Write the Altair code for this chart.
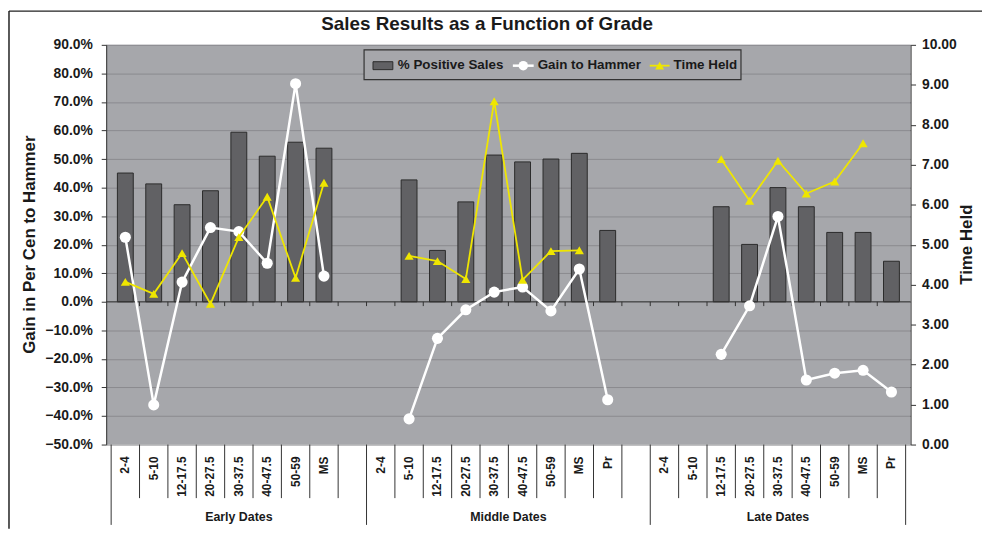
import altair as alt
import pandas as pd

# ---------------- data ----------------
groups = ["Early Dates", "Middle Dates", "Late Dates"]
group_grades = [
    ["2-4", "5-10", "12-17.5", "20-27.5", "30-37.5", "40-47.5", "50-59", "MS", ""],
    ["2-4", "5-10", "12-17.5", "20-27.5", "30-37.5", "40-47.5", "50-59", "MS", "Pr", ""],
    ["2-4", "5-10", "12-17.5", "20-27.5", "30-37.5", "40-47.5", "50-59", "MS", "Pr"],
]
# % Positive Sales (percent, left axis)
positive_sales = [45.1, 41.3, 34.0, 38.9, 59.4, 51.0, 55.9, 53.8, None,
                  None, 42.7, 18.0, 35.0, 51.4, 49.0, 50.0, 52.0, 25.0, None,
                  None, None, 33.3, 20.1, 40.0, 33.3, 24.3, 24.3, 14.2]
# Gain to Hammer (percent, left axis)
gain_to_hammer = [22.6, -36.1, 6.9, 26.0, 24.6, 13.5, 76.4, 9.0, None,
                  None, -41.0, -12.8, -2.8, 3.4, 5.2, -3.2, 11.5, -34.3, None,
                  None, None, -18.4, -1.4, 29.9, -27.4, -25.0, -24.0, -31.6]
# Time Held (right axis)
time_held = [4.07, 3.77, 4.79, 3.52, 5.19, 6.20, 4.17, 6.55, None,
             None, 4.72, 4.59, 4.14, 8.59, 4.12, 4.84, 4.86, None, None,
             None, None, 7.14, 6.10, 7.10, 6.28, 6.58, 7.54, None]

left_ticks = list(range(-50, 91, 10))
right_ticks = list(range(0, 11))

# ---------------- tables ----------------
rows = []
slot = 0
group_rows = []
for g, grades in zip(groups, group_grades):
    start = slot
    for gr in grades:
        rows.append({"group": g, "grade": gr, "slot": slot})
        slot += 1
    group_rows.append({"group": g, "start": start, "end": slot, "mid": (start + slot) / 2})
n_slots = slot
df = pd.DataFrame(rows)
df["center"] = df["slot"] + 0.5
df["pos"] = positive_sales
df["gain"] = gain_to_hammer
df["held"] = time_held
gdf = pd.DataFrame(group_rows)
group_edges = set(gdf["start"]).union(set(gdf["end"]))
bdf = pd.DataFrame({"b": list(range(n_slots + 1))})
bdf["long"] = bdf["b"].isin(group_edges)
one = pd.DataFrame({"k": [0]})

W, H = 811, 403
FONT = "Liberation Sans"
PLOT_BG = "#a6a7ab"
BAR = "#616164"
YEL = "#efe600"
DARK = "#2b2b2b"

xs = alt.Scale(domain=[0, n_slots], nice=False, zero=False)
ys_left = alt.Scale(domain=[-50, 90], nice=False, zero=False)
ys_right = alt.Scale(domain=[0, 10], nice=False, zero=False)

left_axis = alt.Axis(values=left_ticks,
                     labelExpr="format(datum.value/100, '.1%')",
                     labelFont=FONT, labelFontWeight="bold", labelFontSize=14,
                     labelColor="#1a1a1a", labelPadding=9,
                     tickSize=5, tickColor="#333", domainColor="#333",
                     grid=True, gridColor="#8b8b8f", gridWidth=1)

X = alt.X("center:Q", scale=xs, axis=None)

bars = alt.Chart(df).transform_filter("isValid(datum.pos)").mark_bar(
    size=16, color=BAR, stroke=DARK, strokeWidth=1
).encode(
    x=X,
    y=alt.Y("pos:Q", scale=ys_left, title=None, axis=left_axis),
)

zero_rule = alt.Chart(one).mark_rule(color="#333", strokeWidth=1).encode(
    y=alt.Y(datum=0, type="quantitative", scale=ys_left, title=None, axis=left_axis))

zero_ticks = alt.Chart(bdf).transform_filter("datum.b > 0 && datum.b < %d" % n_slots).mark_rule(
    color="#333", strokeWidth=1
).encode(
    x=alt.X("b:Q", scale=xs, axis=None),
    y=alt.Y(datum=0, type="quantitative", scale=ys_left, title=None, axis=left_axis),
    y2=alt.Y2(datum=-1.5),
)

gain_line = alt.Chart(df).transform_filter("isValid(datum.gain)").mark_line(
    color="white", strokeWidth=2.5,
    point=alt.OverlayMarkDef(filled=True, fill="white", color="white", size=125, opacity=1),
).encode(
    x=X,
    y=alt.Y("gain:Q", scale=ys_left, title=None, axis=left_axis),
    detail="group:N",
)

left_layer = alt.layer(bars, zero_rule, zero_ticks, gain_line)

held_line = alt.Chart(df).transform_filter("isValid(datum.held)").mark_line(
    color=YEL, strokeWidth=1.8,
    point=alt.OverlayMarkDef(shape="triangle-up", filled=True, fill=YEL, color=YEL, size=85, opacity=1),
).encode(
    x=X,
    y=alt.Y("held:Q", scale=ys_right, title=None,
            axis=alt.Axis(orient="right", values=right_ticks, format=".2f",
                          labelFont=FONT, labelFontWeight="bold", labelFontSize=14,
                          labelColor="#1a1a1a", labelPadding=6,
                          tickSize=5, tickColor="#333", domainColor="#333", grid=False)),
    detail="group:N",
)

# ---------------- category axis below the plot ----------------
sep_short = alt.Chart(bdf).transform_filter("!datum.long").mark_rule(color="#333", strokeWidth=1).encode(
    x=alt.X("b:Q", scale=xs, axis=None), y=alt.value(H), y2=alt.value(H + 54))
sep_long = alt.Chart(bdf).transform_filter("datum.long").mark_rule(color="#333", strokeWidth=1).encode(
    x=alt.X("b:Q", scale=xs, axis=None), y=alt.value(H), y2=alt.value(H + 81))
cat_text = alt.Chart(df).transform_filter("datum.grade != ''").mark_text(
    angle=270, align="right", baseline="middle", font=FONT, fontWeight="bold",
    fontSize=12, color="#1a1a1a"
).encode(x=X, y=alt.value(H + 12), text="grade:N")
grp_text = alt.Chart(gdf).mark_text(
    align="center", baseline="middle", font=FONT, fontWeight="bold", fontSize=12.5, color="#1a1a1a"
).encode(x=alt.X("mid:Q", scale=xs, axis=None), y=alt.value(H + 73), text="group:N")

# ---------------- titles ----------------
title = alt.Chart(one).mark_text(font=FONT, fontWeight="bold", fontSize=19, color="#1a1a1a",
                                 baseline="middle").encode(
    x=alt.value(384), y=alt.value(-21), text=alt.value("Sales Results as a Function of Grade"))
ytitle_l = alt.Chart(one).mark_text(font=FONT, fontWeight="bold", fontSize=17, color="#1a1a1a",
                                    angle=270, baseline="middle").encode(
    x=alt.value(-77), y=alt.value(H / 2), text=alt.value("Gain in Per Cen to Hammer"))
ytitle_r = alt.Chart(one).mark_text(font=FONT, fontWeight="bold", fontSize=17, color="#1a1a1a",
                                    angle=270, baseline="middle").encode(
    x=alt.value(868), y=alt.value(H / 2), text=alt.value("Time Held"))

frame_top = alt.Chart(one).mark_rule(color="#222", strokeWidth=1.5).encode(
    x=alt.value(-98), x2=alt.value(W + 72), y=alt.value(-34))
frame_left = alt.Chart(one).mark_rule(color="#222", strokeWidth=1.5).encode(
    x=alt.value(-98), y=alt.value(-34), y2=alt.value(H + 85))

# ---------------- legend ----------------
leg_box = alt.Chart(one).mark_rect(fill=PLOT_BG, stroke="#333", strokeWidth=1.2).encode(
    x=alt.value(260), x2=alt.value(640), y=alt.value(5), y2=alt.value(35))
leg_sw = alt.Chart(one).mark_rect(fill=BAR, stroke=DARK, strokeWidth=1).encode(
    x=alt.value(269), x2=alt.value(289), y=alt.value(17), y2=alt.value(25))
leg_wl = alt.Chart(one).mark_rule(color="white", strokeWidth=2.5).encode(
    x=alt.value(410), x2=alt.value(431), y=alt.value(21))
leg_wp = alt.Chart(one).mark_point(filled=True, fill="white", color="white", size=90, opacity=1).encode(
    x=alt.value(420.5), y=alt.value(21))
leg_yl = alt.Chart(one).mark_rule(color=YEL, strokeWidth=1.8).encode(
    x=alt.value(548), x2=alt.value(568), y=alt.value(21))
leg_yp = alt.Chart(one).mark_point(shape="triangle-up", filled=True, fill=YEL, color=YEL, size=80, opacity=1).encode(
    x=alt.value(558), y=alt.value(21))
leg_txt = []
for lx, lt in [(294, "% Positive Sales"), (435, "Gain to Hammer"), (572, "Time Held")]:
    leg_txt.append(alt.Chart(one).mark_text(align="left", baseline="middle", font=FONT,
                                            fontWeight="bold", fontSize=13.5, color="#1a1a1a").encode(
        x=alt.value(lx), y=alt.value(20), text=alt.value(lt)))

chart = alt.layer(
    left_layer, held_line,
    sep_short, sep_long, cat_text, grp_text,
    title, ytitle_l, ytitle_r, frame_top, frame_left,
    leg_box, leg_sw, leg_wl, leg_wp, leg_yl, leg_yp, *leg_txt,
).resolve_scale(y="independent").properties(
    width=W, height=H,
    autosize=alt.AutoSizeParams(type="none"),
    padding={"left": 99, "top": 35, "right": 72, "bottom": 85},
    background="white",
).configure_view(fill=PLOT_BG, stroke=None)

chart.save("out.html", embed_options={"renderer": "svg", "actions": False})
